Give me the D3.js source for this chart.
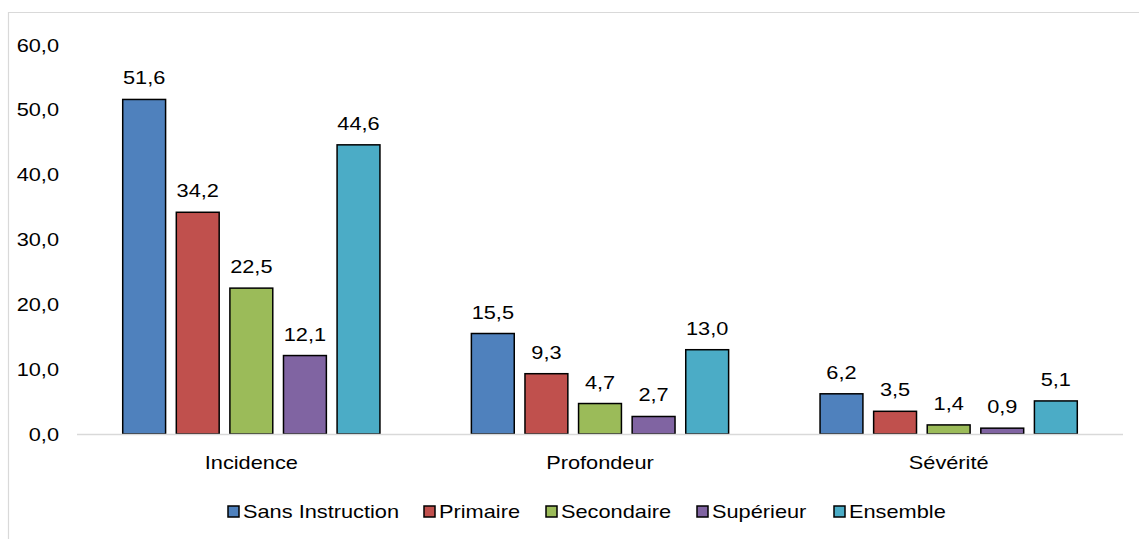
<!DOCTYPE html>
<html><head><meta charset="utf-8">
<script src="https://cdn.jsdelivr.net/npm/d3@7"></script>
<style>body{margin:0;background:#fff}svg{display:block}text{font-family:"Liberation Sans",Arial,sans-serif;fill:#000;font-size:18.6px}</style>
</head><body><svg id="c" width="1139" height="539"></svg>
<script>
const categories = ["Incidence", "Profondeur", "Sévérité"];
const seriesNames = ["Sans Instruction", "Primaire", "Secondaire", "Supérieur", "Ensemble"];
const sansInstruction = [51.6, 15.5, 6.2];
const primaire = [34.2, 9.3, 3.5];
const secondaire = [22.5, 4.7, 1.4];
const superieur = [12.1, 2.7, 0.9];
const ensemble = [44.6, 13.0, 5.1];
const yTicks = [0, 10, 20, 30, 40, 50, 60];
const colors = ["#4F81BD", "#C0504D", "#9BBB59", "#8064A2", "#4BACC6"];

const seriesValues = [sansInstruction, primaire, secondaire, superieur, ensemble];
const fmt = v => d3.format(".1f")(v).replace(".", ",");
const SX = 1.17;
const tr = (x, y) => `translate(${x},${y}) scale(${SX},1)`;

const svg = d3.select("#c");
svg.append("path").attr("d", "M8.5,560 V12.5 H1160").attr("fill", "none").attr("stroke", "#d9d9d9").attr("stroke-width", 1.2);

const x0 = d3.scaleBand().domain(categories).range([77, 1123]).paddingInner(0).paddingOuter(0);
const x1 = d3.scaleBand().domain(seriesNames).range([0, x0.bandwidth()]).paddingInner(0.2).paddingOuter(0.853);
const y = d3.scaleLinear().domain([0, 60]).range([434, 45]);

svg.append("g").selectAll("text").data(yTicks).join("text")
  .attr("transform", d => tr(59, y(d))).attr("dy", "0.35em").attr("text-anchor", "end").text(fmt);

const rows = [];
categories.forEach((c, i) => seriesNames.forEach((s, j) => rows.push({c, s, j, v: seriesValues[j][i]})));
svg.append("g").selectAll("rect").data(rows).join("rect")
  .attr("x", d => x0(d.c) + x1(d.s)).attr("width", x1.bandwidth())
  .attr("y", d => y(d.v)).attr("height", d => y(0) - y(d.v))
  .attr("fill", d => colors[d.j]).attr("stroke", "#000").attr("stroke-width", 1.5);

svg.append("line").attr("x1", 77).attr("x2", 1123).attr("y1", y(0) + 0.5).attr("y2", y(0) + 0.5)
  .attr("stroke", "#d9d9d9").attr("stroke-width", 1.5);

svg.append("g").selectAll("text").data(rows).join("text")
  .attr("transform", d => tr(x0(d.c) + x1(d.s) + x1.bandwidth() / 2, y(d.v) - 15))
  .attr("text-anchor", "middle").text(d => fmt(d.v));

svg.append("g").selectAll("text").data(categories).join("text")
  .attr("transform", d => tr(x0(d) + x0.bandwidth() / 2, 469)).attr("text-anchor", "middle").text(d => d);

const legX = [228, 424, 546, 697, 834];
const leg = svg.append("g").selectAll("g").data(seriesNames).join("g")
  .attr("transform", (d, i) => `translate(${legX[i]},511.5)`);
leg.append("rect").attr("x", 0).attr("y", -5.5).attr("width", 11).attr("height", 11)
  .attr("fill", (d, i) => colors[i]).attr("stroke", "#000").attr("stroke-width", 1.5);
leg.append("text").attr("transform", tr(15, 0)).attr("dy", "0.35em").text(d => d);
</script></body></html>
